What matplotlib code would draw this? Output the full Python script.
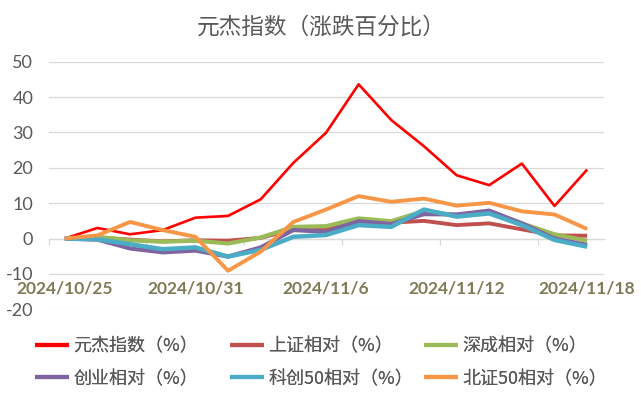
import matplotlib
matplotlib.use("Agg")
import matplotlib.pyplot as plt
from matplotlib.ticker import FixedLocator, FixedFormatter

dates = ["2024/10/25", "2024/10/28", "2024/10/29", "2024/10/30", "2024/10/31",
         "2024/11/1", "2024/11/4", "2024/11/5", "2024/11/6", "2024/11/7",
         "2024/11/8", "2024/11/11", "2024/11/12", "2024/11/13", "2024/11/14",
         "2024/11/15", "2024/11/18"]

yuanjie = [0, 3.0, 1.2, 2.4, 5.9, 6.4, 11.1, 21.4, 29.9, 43.6, 33.5, 26.1, 17.9, 15.1, 21.2, 9.2, 19.5]
shangzheng = [0, 0.3, -0.3, -0.8, -0.5, -0.6, 0.2, 2.6, 2.4, 5.0, 4.5, 5.0, 3.8, 4.3, 2.6, 0.9, 0.8]
shencheng = [0, 0.5, -0.5, -0.9, -0.6, -1.4, 0.3, 3.3, 3.5, 5.7, 4.9, 7.8, 6.6, 7.6, 4.3, 1.2, -0.6]
chuangye = [0, -0.3, -2.8, -3.9, -3.4, -5.1, -2.5, 2.4, 1.9, 4.9, 4.1, 6.9, 6.8, 7.9, 4.3, 0.0, -1.8]
kechuang50 = [0, -0.2, -1.6, -3.0, -2.5, -5.1, -3.2, 0.5, 1.0, 3.8, 3.3, 8.2, 6.2, 7.1, 3.8, -0.4, -2.3]
beizheng50 = [0, 0.9, 4.7, 2.4, 0.5, -9.1, -3.7, 4.7, 8.2, 12.0, 10.4, 11.3, 9.3, 10.1, 7.7, 6.8, 2.7]

series_names = ["元杰指数（%）", "上证相对（%）", "深成相对（%）",
                "创业相对（%）", "科创50相对（%）", "北证50相对（%）"]
series_values = [yuanjie, shangzheng, shencheng, chuangye, kechuang50, beizheng50]
colors = ["#FF0000", "#C0504D", "#9BBB59", "#8064A2", "#4BACC6", "#F79646"]
widths = [1.9, 2.8, 3.0, 3.0, 3.2, 2.8]

yticks = [-20, -10, 0, 10, 20, 30, 40, 50]
xlabel_idx = [0, 4, 8, 12, 16]

cjk = ["Noto Sans CJK SC", "DejaVu Sans"]

fig = plt.figure(figsize=(6.41, 3.97), dpi=100)
ax = fig.add_axes([48.5 / 641, 1 - 309.3 / 397, (603.5 - 48.5) / 641, (309.3 - 61.7) / 397])

x = list(range(len(dates)))
handles = []
for name, vals, c, w in zip(series_names, series_values, colors, widths):
    h, = ax.plot(x, vals, color=c, lw=w, label=name, solid_joinstyle="round",
                 solid_capstyle="butt")
    handles.append(h)

ax.set_xlim(-0.5, len(dates) - 0.5)
ax.set_ylim(-20, 50)
ax.set_yticks(yticks)
ax.set_yticklabels([str(v) for v in yticks])
ax.grid(axis="y", color="#D9D9D9", lw=0.9)
ax.set_axisbelow(True)

for s in ["top", "right", "left"]:
    ax.spines[s].set_visible(False)
ax.spines["bottom"].set_position(("data", 0))
ax.spines["bottom"].set_color("#D9D9D9")
ax.spines["bottom"].set_linewidth(0.9)
ax.spines["bottom"].set_zorder(0.5)

ax.xaxis.set_major_locator(FixedLocator(xlabel_idx))
ax.xaxis.set_major_formatter(FixedFormatter([dates[i] for i in xlabel_idx]))
ax.xaxis.set_minor_locator(FixedLocator([-0.5 + 3 * k for k in range(6)]))
ax.tick_params(axis="x", which="major", length=0, pad=30)
ax.tick_params(axis="x", which="minor", length=4.5, width=0.9, color="#D9D9D9", direction="out")
ax.tick_params(axis="y", length=0, pad=11, labelsize=13, labelcolor="#595959")
for lab in ax.get_xticklabels():
    lab.set_fontfamily("Lato")
    lab.set_fontweight("bold")
    lab.set_fontsize(12.5)
    lab.set_color("#7F7A55")
for lab in ax.get_yticklabels():
    lab.set_fontfamily("Lato")

fig.text(321.7 / 641, 1 - 27 / 397, "元杰指数（涨跌百分比）", ha="center", va="center",
         fontsize=16.3, color="#595959", family=cjk)

col_x = [35, 230, 424]
for ci in range(3):
    idx = [ci, ci + 3]
    leg = fig.legend([handles[i] for i in idx], [series_names[i] for i in idx],
                     loc="upper left", bbox_to_anchor=(col_x[ci] / 641, 1 - 337 / 397),
                     ncol=1, frameon=False, borderpad=0, borderaxespad=0,
                     handlelength=1.9, handletextpad=0.22,
                     labelspacing=0.82, prop={"family": cjk, "size": 13})
    for t in leg.get_texts():
        t.set_color("#595959")
    for lh in leg.get_lines():
        lh.set_linewidth(3.0)
    fig.add_artist(leg)

fig.savefig("out.png", dpi=100)
